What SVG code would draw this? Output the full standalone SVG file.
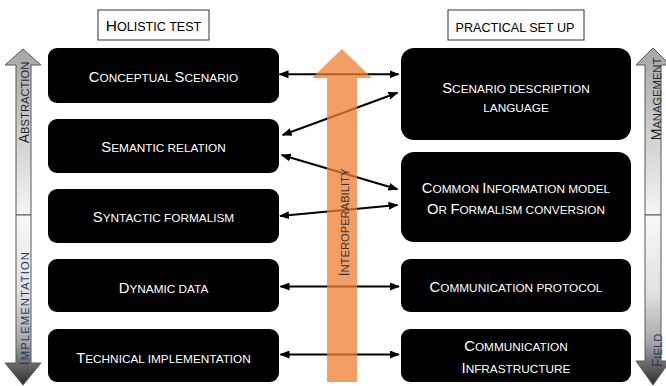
<svg xmlns="http://www.w3.org/2000/svg" width="666" height="386" viewBox="0 0 666 386">
<style>
text{font-family:"Liberation Sans",Arial,sans-serif}
.node rect{fill:#000}
.nt{fill:#fff;font-size:11.8px;text-anchor:middle}
.b{font-size:14.8px}
.title rect{fill:#fff;stroke:#333;stroke-width:1}
.tt{fill:#000;font-size:12.6px;text-anchor:middle}
.tb{font-size:15.5px}
.conn line{stroke:#000;stroke-width:2;marker-start:url(#ah);marker-end:url(#ah)}
.side{stroke:#595959;stroke-width:1}
.vt{font-size:11.2px;text-anchor:middle}
.vb{font-size:14px}
</style>
<defs>
<marker id="ah" viewBox="0 0 10 8" refX="9" refY="4" markerWidth="10" markerHeight="8" markerUnits="userSpaceOnUse" orient="auto-start-reverse">
<path d="M0,0 L10,4 L0,8 z" fill="#000"/>
</marker>
<linearGradient id="gUp" x1="0" y1="0" x2="0" y2="1">
<stop offset="0" stop-color="#a6a6a6"/>
<stop offset="1" stop-color="#f5f5f5"/>
</linearGradient>
<linearGradient id="gDown" x1="0" y1="0" x2="0" y2="1">
<stop offset="0" stop-color="#f8f8f8"/>
<stop offset="0.45" stop-color="#e2e2e2"/>
<stop offset="0.75" stop-color="#a6a6a6"/>
<stop offset="1" stop-color="#2e2e2e"/>
</linearGradient>
</defs>

<!-- side arrows left -->
<g id="abstraction">
<polygon class="side" fill="url(#gUp)" points="23,49 41,65 31,65 31,215 16,215 16,65 5,65"/>
<text class="vt" fill="#262626" transform="translate(29.3,102.5) rotate(-90)"><tspan class="vb">A</tspan>BSTRACTION</text>
</g>
<g id="implementation">
<polygon class="side" fill="url(#gDown)" points="16,215 31,215 31,363 41,363 23,385 5,363 16,363"/>
<text class="vt" fill="#1f3864" transform="translate(29.3,308.7) rotate(-90)" textLength="113"><tspan class="vb">I</tspan>MPLEMENTATION</text>
</g>
<!-- side arrows right -->
<g id="management">
<polygon class="side" fill="url(#gUp)" points="653,48 670,65 661,65 661,215 645,215 645,65 636,65"/>
<text class="vt" fill="#262626" transform="translate(661,99) rotate(-90)"><tspan class="vb">M</tspan>ANAGEMENT</text>
</g>
<g id="field">
<polygon class="side" fill="url(#gDown)" points="645,215 661,215 661,361 670,361 653,385 636,361 645,361"/>
<text class="vt" fill="#1f3864" transform="translate(662,350.5) rotate(-90)"><tspan class="vb">F</tspan>IELD</text>
</g>

<!-- titles -->
<g id="holistic-test" class="title">
<rect x="98" y="10" width="111" height="30"/>
<text class="tt" x="153.5" y="31"><tspan class="tb">H</tspan>OLISTIC TEST</text>
</g>
<g id="practical-set-up" class="title">
<rect x="448" y="10" width="136" height="30"/>
<text class="tt" x="515" y="31.5">PRACTICAL SET UP</text>
</g>

<!-- left nodes -->
<g id="conceptual-scenario" class="node">
<rect x="48" y="48" width="231" height="55" rx="9"/>
<text class="nt" x="163.5" y="82"><tspan class="b">C</tspan>ONCEPTUAL <tspan class="b">S</tspan>CENARIO</text>
</g>
<g id="semantic-relation" class="node">
<rect x="48" y="119" width="231" height="54" rx="9"/>
<text class="nt" x="163.5" y="151.5"><tspan class="b">S</tspan>EMANTIC RELATION</text>
</g>
<g id="syntactic-formalism" class="node">
<rect x="48" y="189" width="231" height="54" rx="9"/>
<text class="nt" x="163.5" y="222"><tspan class="b">S</tspan>YNTACTIC FORMALISM</text>
</g>
<g id="dynamic-data" class="node">
<rect x="48" y="259" width="231" height="53" rx="9"/>
<text class="nt" x="163.5" y="292.5"><tspan class="b">D</tspan>YNAMIC DATA</text>
</g>
<g id="technical-implementation" class="node">
<rect x="48" y="329" width="231" height="53" rx="9"/>
<text class="nt" x="163.5" y="362.5"><tspan class="b">T</tspan>ECHNICAL IMPLEMENTATION</text>
</g>

<!-- right nodes -->
<g id="scenario-description-language" class="node">
<rect x="401" y="48" width="230" height="92" rx="13"/>
<text class="nt" x="516" y="93"><tspan class="b">S</tspan>CENARIO DESCRIPTION</text>
<text class="nt" x="516" y="112">LANGUAGE</text>
</g>
<g id="common-information-model" class="node">
<rect x="401" y="152" width="230" height="90" rx="13"/>
<text class="nt" x="516" y="193"><tspan class="b">C</tspan>OMMON <tspan class="b">I</tspan>NFORMATION MODEL</text>
<text class="nt" x="516" y="214"><tspan class="b">O</tspan>R <tspan class="b">F</tspan>ORMALISM CONVERSION</text>
</g>
<g id="communication-protocol" class="node">
<rect x="401" y="259" width="230" height="53" rx="9"/>
<text class="nt" x="516" y="292"><tspan class="b">C</tspan>OMMUNICATION PROTOCOL</text>
</g>
<g id="communication-infrastructure" class="node">
<rect x="401" y="329" width="230" height="53" rx="9"/>
<text class="nt" x="516" y="350.5"><tspan class="b">C</tspan>OMMUNICATION</text>
<text class="nt" x="516" y="372.5"><tspan class="b">I</tspan>NFRASTRUCTURE</text>
</g>

<!-- connectors -->
<g id="connectors" class="conn">
<line x1="279.5" y1="74.3" x2="398.5" y2="74.3"/>
<line x1="282.7" y1="135" x2="397.5" y2="92.7"/>
<line x1="281.7" y1="155" x2="397.5" y2="189.3"/>
<line x1="280" y1="216" x2="397.5" y2="205"/>
<line x1="280.5" y1="286.5" x2="399" y2="286.5"/>
<line x1="280.5" y1="354.5" x2="399" y2="354.5"/>
</g>

<!-- interoperability arrow -->
<g id="interoperability">
<polygon fill="#ed7d31" fill-opacity="0.75" points="342,49 372,78 357,78 357,382 327,382 327,78 312,78"/>
<text class="vt" fill="#333" transform="translate(349,222.5) rotate(-90)"><tspan class="vb">I</tspan>NTEROPERABILITY</text>
</g>
</svg>
